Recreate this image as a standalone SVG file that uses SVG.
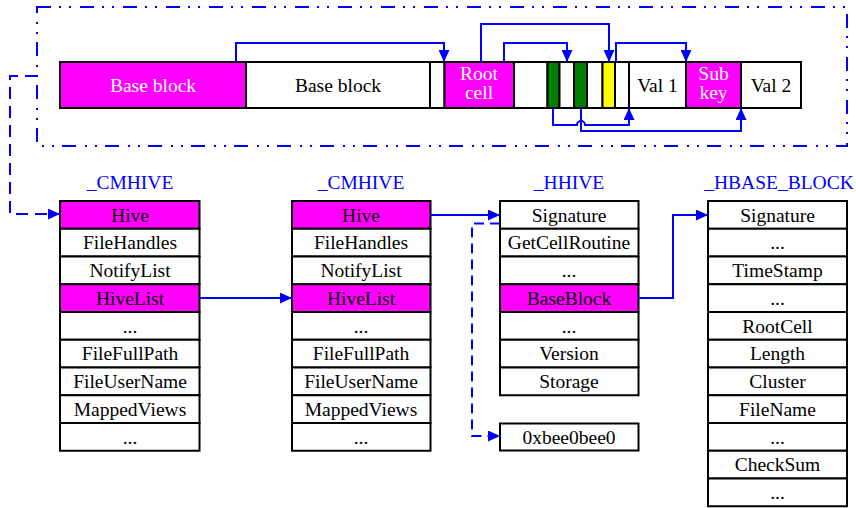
<svg xmlns="http://www.w3.org/2000/svg" width="856" height="508" viewBox="0 0 856 508">
<defs>
<marker id="ah" markerUnits="userSpaceOnUse" markerWidth="12" markerHeight="11" refX="12" refY="5.5" orient="auto">
<path d="M0,0 L12,5.5 L0,11 z" fill="#0000FF"/>
</marker>
<style>
text{font-family:"Liberation Serif","Times New Roman",serif;font-size:19.5px;text-anchor:middle;fill:#000}
.w{fill:#fff}
.t{fill:#0000FF}
.c{stroke:#000;stroke-width:2}
.cw{fill:#fff}
.cm{fill:#FF00FF}
.cg{fill:#008000}
.cy{fill:#FFFF00}
.ln{fill:none;stroke:#0000FF;stroke-width:2}
.ar{marker-end:url(#ah)}
.d{stroke-dasharray:12 7}
.d2{stroke-dasharray:10 6}
</style>
</defs>
<rect x="37" y="7" width="810" height="139" fill="none" stroke="#0000FF" stroke-width="2" stroke-dasharray="14 8 2 8 2 9"/>
<g id="hive-file">
<rect class="c cm" x="60" y="62" width="186" height="46"/>
<rect class="c cw" x="246" y="62" width="184" height="46"/>
<rect class="c cw" x="430" y="62" width="14.5" height="46"/>
<rect class="c cm" x="444.5" y="62" width="69.5" height="46"/>
<rect class="c cw" x="514" y="62" width="33.5" height="46"/>
<rect class="c cg" x="547.5" y="62" width="12" height="46"/>
<rect class="c cw" x="559.5" y="62" width="14.5" height="46"/>
<rect class="c cg" x="574" y="62" width="13" height="46"/>
<rect class="c cw" x="587" y="62" width="15.5" height="46"/>
<rect class="c cy" x="602.5" y="62" width="12.5" height="46"/>
<rect class="c cw" x="615" y="62" width="14" height="46"/>
<rect class="c cw" x="629" y="62" width="57" height="46"/>
<rect class="c cm" x="686" y="62" width="55" height="46"/>
<rect class="c cw" x="741" y="62" width="60" height="46"/>
<text class="w" x="153" y="92">Base block</text>
<text x="338" y="92">Base block</text>
<text class="w" x="479" y="80">Root</text>
<text class="w" x="479" y="99">cell</text>
<text x="657.5" y="92">Val 1</text>
<text class="w" x="713.5" y="80">Sub</text>
<text class="w" x="713.5" y="99">key</text>
<text x="771" y="92">Val 2</text>
</g>
<g id="cmhive1">
<text class="t" x="130" y="189">_CMHIVE</text>
<rect class="c cm" x="60" y="201" width="139.5" height="27.75"/>
<rect class="c cw" x="60" y="228.75" width="139.5" height="27.75"/>
<rect class="c cw" x="60" y="256.5" width="139.5" height="27.75"/>
<rect class="c cm" x="60" y="284.25" width="139.5" height="27.75"/>
<rect class="c cw" x="60" y="312" width="139.5" height="27.75"/>
<rect class="c cw" x="60" y="339.75" width="139.5" height="27.75"/>
<rect class="c cw" x="60" y="367.5" width="139.5" height="27.75"/>
<rect class="c cw" x="60" y="395.25" width="139.5" height="27.75"/>
<rect class="c cw" x="60" y="423" width="139.5" height="27.75"/>
<text x="130" y="221.5">Hive</text>
<text x="130" y="249.25">FileHandles</text>
<text x="130" y="277">NotifyList</text>
<text x="130" y="304.75">HiveList</text>
<text x="130" y="332.5">...</text>
<text x="130" y="360.25">FileFullPath</text>
<text x="130" y="388">FileUserName</text>
<text x="130" y="415.75">MappedViews</text>
<text x="130" y="443.5">...</text>
</g>
<g id="cmhive2">
<text class="t" x="361" y="189">_CMHIVE</text>
<rect class="c cm" x="292" y="201" width="138.5" height="27.75"/>
<rect class="c cw" x="292" y="228.75" width="138.5" height="27.75"/>
<rect class="c cw" x="292" y="256.5" width="138.5" height="27.75"/>
<rect class="c cm" x="292" y="284.25" width="138.5" height="27.75"/>
<rect class="c cw" x="292" y="312" width="138.5" height="27.75"/>
<rect class="c cw" x="292" y="339.75" width="138.5" height="27.75"/>
<rect class="c cw" x="292" y="367.5" width="138.5" height="27.75"/>
<rect class="c cw" x="292" y="395.25" width="138.5" height="27.75"/>
<rect class="c cw" x="292" y="423" width="138.5" height="27.75"/>
<text x="361" y="221.5">Hive</text>
<text x="361" y="249.25">FileHandles</text>
<text x="361" y="277">NotifyList</text>
<text x="361" y="304.75">HiveList</text>
<text x="361" y="332.5">...</text>
<text x="361" y="360.25">FileFullPath</text>
<text x="361" y="388">FileUserName</text>
<text x="361" y="415.75">MappedViews</text>
<text x="361" y="443.5">...</text>
</g>
<g id="hhive">
<text class="t" x="569" y="189">_HHIVE</text>
<rect class="c cw" x="500" y="201" width="138.5" height="27.75"/>
<rect class="c cw" x="500" y="228.75" width="138.5" height="27.75"/>
<rect class="c cw" x="500" y="256.5" width="138.5" height="27.75"/>
<rect class="c cm" x="500" y="284.25" width="138.5" height="27.75"/>
<rect class="c cw" x="500" y="312" width="138.5" height="27.75"/>
<rect class="c cw" x="500" y="339.75" width="138.5" height="27.75"/>
<rect class="c cw" x="500" y="367.5" width="138.5" height="27.75"/>
<text x="569" y="221.5">Signature</text>
<text x="569" y="249.25">GetCellRoutine</text>
<text x="569" y="277">...</text>
<text x="569" y="304.75">BaseBlock</text>
<text x="569" y="332.5">...</text>
<text x="569" y="360.25">Version</text>
<text x="569" y="388">Storage</text>
</g>
<g id="signature-value">
<rect class="c cw" x="500" y="423.5" width="138.5" height="27"/>
<text x="569" y="443.5">0xbee0bee0</text>
</g>
<g id="hbase-block">
<text class="t" x="779" y="189">_HBASE_BLOCK</text>
<rect class="c cw" x="708" y="201" width="139" height="27.75"/>
<rect class="c cw" x="708" y="228.75" width="139" height="27.75"/>
<rect class="c cw" x="708" y="256.5" width="139" height="27.75"/>
<rect class="c cw" x="708" y="284.25" width="139" height="27.75"/>
<rect class="c cw" x="708" y="312" width="139" height="27.75"/>
<rect class="c cw" x="708" y="339.75" width="139" height="27.75"/>
<rect class="c cw" x="708" y="367.5" width="139" height="27.75"/>
<rect class="c cw" x="708" y="395.25" width="139" height="27.75"/>
<rect class="c cw" x="708" y="423" width="139" height="27.75"/>
<rect class="c cw" x="708" y="450.75" width="139" height="27.75"/>
<rect class="c cw" x="708" y="478.5" width="139" height="27.75"/>
<text x="777.5" y="221.5">Signature</text>
<text x="777.5" y="249.25">...</text>
<text x="777.5" y="277">TimeStamp</text>
<text x="777.5" y="304.75">...</text>
<text x="777.5" y="332.5">RootCell</text>
<text x="777.5" y="360.25">Length</text>
<text x="777.5" y="388">Cluster</text>
<text x="777.5" y="415.75">FileName</text>
<text x="777.5" y="443.5">...</text>
<text x="777.5" y="471.25">CheckSum</text>
<text x="777.5" y="499">...</text>
</g>
<g id="connectors">
<path class="ln ar" d="M236,62 V43 H444 V62"/>
<path class="ln ar" d="M481,62 V24 H609 V62"/>
<path class="ln ar" d="M504,62 V43 H567 V62"/>
<path class="ln ar" d="M616,62 V43 H686 V62"/>
<path class="ln ar" d="M553,108 V125 H577 A4,4 0 0 1 585,125 H629 V108"/>
<path class="ln ar" d="M581,108 V131 H741 V108"/>
<path class="ln ar d" d="M37,76 H10 V214 H60"/>
<path class="ln ar" d="M199.5,298 H292"/>
<path class="ln ar" d="M430.5,215 H500"/>
<path class="ln ar" d="M638.5,298 H673 V215 H708"/>
<path class="ln ar d2" d="M500,223.5 H472 V436 H500"/>
</g>
</svg>
